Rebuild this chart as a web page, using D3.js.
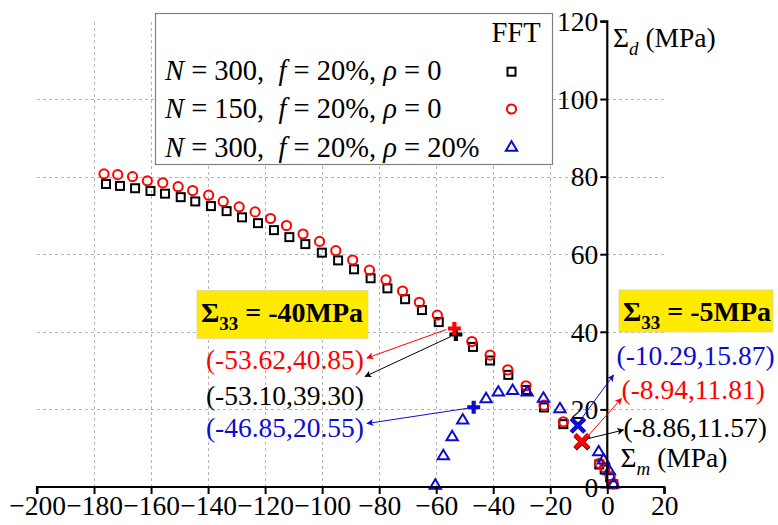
<!DOCTYPE html>
<html>
<head>
<meta charset="utf-8">
<script src="https://cdn.jsdelivr.net/npm/d3@7"></script>
<style>
  html, body { margin: 0; padding: 0; background: #fff; }
  svg { display: block; font-family: "Liberation Serif", "Times New Roman", serif; }
  text { white-space: pre; }
</style>
</head>
<body>
<svg id="chart" width="778" height="525"></svg>
<script>
// Axis ticks
const xTicks = [-200, -180, -160, -140, -120, -100, -80, -60, -40, -20, 0, 20];
const yTicks = [0, 20, 40, 60, 80, 100, 120];
const xGrid = [-180, -160, -140, -120, -100, -80, -60, -40, -20];
const yGrid = [20, 40, 60, 80, 100];

// Yield surface points [Σm, Σd] in MPa (FFT)
const n300rho0 = [
  [-175.8, 78.1], [-170.9, 77.6], [-165.6, 77.0], [-160.2, 76.3], [-155.1, 75.6],
  [-149.6, 74.7], [-144.5, 73.6], [-139.0, 72.4], [-133.5, 71.1], [-128.1, 69.5],
  [-122.5, 68.0], [-116.9, 66.2], [-111.5, 64.4], [-105.9, 62.6], [-100.1, 60.4],
  [-94.4, 58.4], [-88.8, 56.1], [-83.0, 53.8], [-77.1, 51.2], [-70.9, 48.4],
  [-65.0, 45.6], [-59.1, 42.5], [-47.1, 36.1], [-41.1, 32.6], [-34.7, 28.9],
  [-28.5, 25.0], [-22.2, 20.5], [-15.4, 16.2], [-2.8, 5.8], [-0.9, 4.5],
  [1.0, 2.5], [2.1, 0.7]
];
const n150rho0 = [
  [-176.5, 80.7], [-171.7, 80.5], [-166.5, 80.0], [-161.3, 78.9], [-155.9, 78.4],
  [-150.5, 77.4], [-145.4, 76.4], [-139.8, 75.2], [-134.7, 73.6], [-129.1, 72.2],
  [-123.5, 70.9], [-118.1, 69.2], [-112.5, 67.4], [-106.7, 65.2], [-100.9, 63.3],
  [-95.2, 60.9], [-89.3, 58.5], [-83.4, 55.9], [-77.6, 53.4], [-71.8, 50.5],
  [-65.9, 47.6], [-59.6, 44.3], [-47.5, 37.5], [-41.1, 34.0], [-34.9, 30.2],
  [-28.5, 26.1], [-22.2, 21.1], [-15.4, 16.8], [-2.7, 6.1], [-0.9, 5.0],
  [1.0, 2.7], [2.1, 0.8]
];
const n300rho20 = [
  [-60.3, 0.6], [-57.5, 8.2], [-54.4, 13.1], [-50.7, 17.4], [-42.5, 22.9],
  [-38.2, 24.6], [-33.2, 25.0], [-28.1, 24.6], [-22.4, 23.0], [-16.6, 20.3],
  [-3.0, 9.2], [-1.3, 7.1], [0.7, 4.3], [2.2, 0.9]
];

// Points reached at Σ33 = -40 MPa and Σ33 = -5 MPa, ordered: N=300 ρ=0, N=150 ρ=0, N=300 ρ=20%
const at40 = [[-53.10, 39.30], [-53.62, 40.85], [-46.85, 20.55]];
const at5 = [[-8.86, 11.57], [-8.94, 11.81], [-10.29, 15.87]];

const legendRows = [
  ["N", " = 300,  ", "f", " = 20%, ", "ρ", " = 0"],
  ["N", " = 150,  ", "f", " = 20%, ", "ρ", " = 0"],
  ["N", " = 300,  ", "f", " = 20%, ", "ρ", " = 20%"]
];
const legendTitle = "FFT";
const stateLabels = ["-40MPa", "-5MPa"];

// ---- styles and layout ----
const colors = ["#000000", "#ff0000", "#0c0cd0"];
const shapes = ["square", "circle", "triangle"];
const series = [n300rho0, n150rho0, n300rho20];
const tickFont = 27.5, labelFont = 27.5, legendFont = 28.5;

const svg = d3.select("#chart");
const x = d3.scaleLinear().domain([-200, 20]).range([37, 664.3]);
const y = d3.scaleLinear().domain([0, 120]).range([487, 21.4]);

// grid
const grid = svg.append("g").attr("stroke", "#b4b4b4").attr("stroke-width", 1)
  .attr("stroke-dasharray", "3,3").attr("fill", "none");
grid.selectAll("line.v").data(xGrid).join("line")
  .attr("x1", d => Math.round(x(d)) + 0.5).attr("x2", d => Math.round(x(d)) + 0.5)
  .attr("y1", y(0)).attr("y2", y(120));
grid.selectAll("line.h").data(yGrid).join("line")
  .attr("y1", d => Math.round(y(d)) + 0.5).attr("y2", d => Math.round(y(d)) + 0.5)
  .attr("x1", x(-200)).attr("x2", x(20));

// legend box
const lg = svg.append("g");
lg.append("rect").attr("x", 155.5).attr("y", 13.5).attr("width", 397).attr("height", 151)
  .attr("fill", "#fff").attr("stroke", "#808080").attr("stroke-width", 1.2);
lg.append("text").attr("x", 516).attr("y", 42).attr("text-anchor", "middle")
  .attr("font-size", legendFont).text(legendTitle);
const rowBase = [80, 118.3, 156.7];
legendRows.forEach((parts, i) => {
  const t = lg.append("text").attr("x", 165).attr("y", rowBase[i]).attr("font-size", legendFont);
  parts.forEach((p, j) => {
    t.append("tspan").attr("font-style", j % 2 === 0 ? "italic" : "normal").text(p);
  });
});

// marker drawing
function drawMarker(g, shape, cx, cy, color) {
  if (shape === "square") {
    g.append("rect").attr("x", cx - 4).attr("y", cy - 4).attr("width", 8).attr("height", 8)
      .attr("fill", "none").attr("stroke", color).attr("stroke-width", 2);
  } else if (shape === "circle") {
    g.append("circle").attr("cx", cx).attr("cy", cy).attr("r", 4.6)
      .attr("fill", "none").attr("stroke", color).attr("stroke-width", 2);
  } else {
    const s = 5.4;
    g.append("path")
      .attr("d", `M${cx},${cy - s}L${cx + s * 1.05},${cy + s * 0.75}L${cx - s * 1.05},${cy + s * 0.75}Z`)
      .attr("fill", "none").attr("stroke", color).attr("stroke-width", 2).attr("stroke-linejoin", "miter");
  }
}
const legendMarkY = [71.7, 109, 146.7];
shapes.forEach((s, i) => drawMarker(lg, s, 511.5, legendMarkY[i], colors[i]));

// data markers
const marks = svg.append("g");
series.forEach((data, i) => {
  const g = marks.append("g");
  data.forEach(d => drawMarker(g, shapes[i], x(d[0]), y(d[1]), colors[i]));
});

// axes
const xAxis = svg.append("g").attr("transform", `translate(0,${y(0)})`)
  .call(d3.axisBottom(x).tickValues(xTicks).tickSize(7).tickFormat(d3.format("d")));
const yAxis = svg.append("g").attr("transform", `translate(${x(0)},0)`)
  .call(d3.axisLeft(y).tickValues(yTicks).tickSize(7).tickFormat(d3.format("d")));
[xAxis, yAxis].forEach(a => {
  a.select(".domain").attr("stroke", "#000").attr("stroke-width", 2.2);
  a.selectAll(".tick line").attr("stroke", "#000").attr("stroke-width", 2);
  a.selectAll(".tick text").attr("font-family", "Liberation Serif").attr("font-size", tickFont)
    .attr("fill", "#000");
});
xAxis.select(".domain").attr("d", `M${x(-200)},7V0H${x(20)}V7`);
xAxis.selectAll(".tick text").attr("y", 28).attr("dy", 0);
yAxis.select(".domain").attr("d", `M-7,${y(120)}H0V${y(0)}`);
yAxis.selectAll(".tick text").attr("x", -9).attr("dy", "0.34em");

// axis titles
function sigmaTitle(tx, ty, sub) {
  const t = svg.append("text").attr("x", tx).attr("y", ty).attr("font-size", 27.5);
  t.append("tspan").text("Σ");
  t.append("tspan").attr("font-style", "italic").attr("font-size", 19).attr("dy", 8).text(sub);
  t.append("tspan").attr("dy", -8).text(" (MPa)");
}
sigmaTitle(613, 47, "d");
sigmaTitle(620.5, 466.5, "m");

// state boxes
function stateBox(bx, by, bw, bh, label) {
  svg.append("rect").attr("x", bx).attr("y", by).attr("width", bw).attr("height", bh)
    .attr("fill", "#ffea00").attr("stroke", "#d8d8a0").attr("stroke-width", 0.8);
  const t = svg.append("text").attr("x", bx + 4).attr("y", by + 31)
    .attr("font-size", 28).attr("font-weight", "bold");
  t.append("tspan").text("Σ");
  t.append("tspan").attr("font-size", 19).attr("dy", 8).text("33");
  t.append("tspan").attr("dy", -8).text(" = " + label);
}
stateBox(197, 290.5, 171, 48, stateLabels[0]);
stateBox(619, 290, 154, 42, stateLabels[1]);

// arrows with coordinate labels
svg.append("defs").selectAll("marker").data(colors).join("marker")
  .attr("id", (d, i) => "ah" + i).attr("viewBox", "0 0 10 10").attr("refX", 9).attr("refY", 5)
  .attr("markerWidth", 9).attr("markerHeight", 7).attr("markerUnits", "userSpaceOnUse")
  .attr("orient", "auto")
  .append("path").attr("d", "M0,0L10,5L0,10L2.5,5Z").attr("fill", d => d);

const fmt = p => `(${p[0].toFixed(2)},${p[1].toFixed(2)})`;
// label anchor positions [text x, text baseline, arrow tip x, arrow tip y]
const labels40 = [[364, 405, 365, 376.5], [364, 368.5, 367, 358], [364, 437, 367, 423.5]];
const labels5 = [[623.5, 437, 623.5, 430], [621.5, 398.5, 621.5, 398.5], [616.5, 365, 613.5, 375]];

const ann = svg.append("g");
// lines first, marks on top
function drawAnnot(points, layout, anchor, start) {
  points.forEach((p, i) => {
    const [tx, ty, ax, ay] = layout[i];
    const px = x(p[0]), py = y(p[1]);
    ann.append("line").attr("x1", px + start[i][0]).attr("y1", py + start[i][1])
      .attr("x2", ax).attr("y2", ay)
      .attr("stroke", colors[i]).attr("stroke-width", 1)
      .attr("marker-end", `url(#ah${i})`);
    ann.append("text").attr("x", tx).attr("y", ty).attr("text-anchor", anchor)
      .attr("font-size", labelFont).attr("fill", colors[i]).text(fmt(p));
  });
}
drawAnnot(at40, labels40, "end", [[-5, 2], [-8, 1], [-6, 1]]);
drawAnnot(at5, labels5, "start", [[4, -3], [5, -4], [3, -6]]);

// markers for the two stress states
function plus(cx, cy, color) {
  ann.append("path").attr("d", `M${cx - 6.5},${cy}H${cx + 6.5}M${cx},${cy - 6.5}V${cy + 6.5}`)
    .attr("stroke", color).attr("stroke-width", 4.2).attr("fill", "none");
}
function cross(cx, cy, color) {
  const s = 6.8;
  ann.append("path").attr("d", `M${cx - s},${cy - s}L${cx + s},${cy + s}M${cx - s},${cy + s}L${cx + s},${cy - s}`)
    .attr("stroke", color).attr("stroke-width", 4.5).attr("fill", "none");
}
at40.forEach((p, i) => plus(x(p[0]), y(p[1]), colors[i]));
[0, 2, 1].forEach(i => cross(x(at5[i][0]), y(at5[i][1]), colors[i]));
</script>
</body>
</html>
